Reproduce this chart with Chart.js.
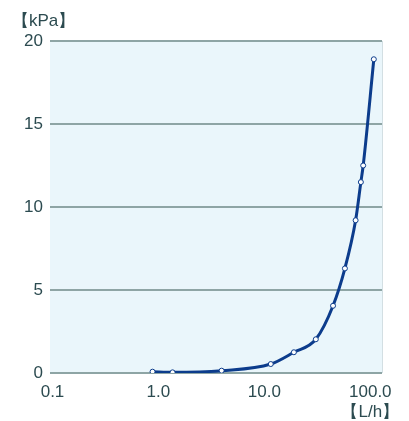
<!DOCTYPE html>
<html>
<head>
<meta charset="utf-8">
<script src="https://cdn.jsdelivr.net/npm/chart.js@4/dist/chart.umd.min.js"></script>
<style>
  html, body { margin: 0; padding: 0; background: #fff; }
  canvas { display: block; }
</style>
</head>
<body>
<canvas id="myChart" width="409" height="421"></canvas>
<script>
// flow rate [L/h] and pressure drop [kPa]
const flow = [0.88, 1.36, 3.95, 11.5, 19.0, 30.6, 44.5, 57.6, 72.7, 81.5, 85.7, 108];
const pressure = [0.08, 0.04, 0.14, 0.54, 1.25, 2.03, 4.05, 6.3, 9.2, 11.5, 12.5, 18.9];
const xTicks = [0.1, 1, 10, 100];
const xTickLabels = ['0.1', '1.0', '10.0', '100.0'];
const yTicks = [0, 5, 10, 15, 20];
const yUnit = '【kPa】';
const xUnit = '【L/h】';

const textColor = '#2c4b50';
const tickFont = { family: 'Liberation Sans, Arial, sans-serif', size: 17 };

// light blue plot background, right edge line and unit labels
const decor = {
  id: 'decor',
  beforeDraw(chart) {
    const { ctx, chartArea: a } = chart;
    ctx.save();
    ctx.fillStyle = '#eaf6fb';
    ctx.fillRect(a.left, a.top, a.right - a.left, a.bottom - a.top);
    ctx.strokeStyle = '#d3dfe3';
    ctx.lineWidth = 1;
    ctx.beginPath();
    ctx.moveTo(a.right + 0.5, a.top);
    ctx.lineTo(a.right + 0.5, a.bottom);
    ctx.stroke();
    ctx.restore();
  },
  afterDraw(chart) {
    const { ctx, chartArea: a } = chart;
    const xs = chart.scales.x;
    ctx.save();
    ctx.fillStyle = textColor;
    ctx.font = '17px Liberation Sans, Arial, sans-serif';
    ctx.textBaseline = 'alphabetic';
    ctx.textAlign = 'left';
    ctx.fillText(yUnit, 12, 26);
    ctx.textAlign = 'center';
    ctx.fillText(xUnit, xs.getPixelForValue(100), a.bottom + 44);
    ctx.restore();
  }
};

const ctx = document.getElementById('myChart');
new Chart(ctx, {
  type: 'line',
  data: {
    datasets: [{
      data: flow.map((f, i) => ({ x: f, y: pressure[i] })),
      borderColor: '#0c3c8c',
      borderWidth: 3,
      pointBackgroundColor: '#ffffff',
      pointBorderColor: '#0c3c8c',
      pointBorderWidth: 1,
      pointRadius: 2.5,
      cubicInterpolationMode: 'monotone',
      fill: false
    }]
  },
  options: {
    responsive: false,
    animation: false,
    layout: { padding: { top: 41, right: 27, left: 0, bottom: 0 } },
    plugins: { legend: { display: false }, tooltip: { enabled: false } },
    scales: {
      x: {
        type: 'logarithmic',
        min: 0.0947,
        max: 129,
        afterBuildTicks: (s) => { s.ticks = xTicks.map(v => ({ value: v })); },
        afterFit: (s) => { s.height = 48; },
        grid: { display: false, drawTicks: false },
        border: { display: false },
        ticks: {
          autoSkip: false,
          maxRotation: 0,
          padding: 9,
          color: textColor,
          font: tickFont,
          callback: (v, i) => xTickLabels[i]
        }
      },
      y: {
        min: 0,
        max: 20,
        afterBuildTicks: (s) => { s.ticks = yTicks.map(v => ({ value: v })); },
        afterFit: (s) => { s.width = 50; },
        grid: { color: '#8ea5a5', lineWidth: 2, drawTicks: false },
        border: { display: false },
        ticks: {
          padding: 7,
          color: textColor,
          font: tickFont
        }
      }
    }
  },
  plugins: [decor]
});
</script>
</body>
</html>
